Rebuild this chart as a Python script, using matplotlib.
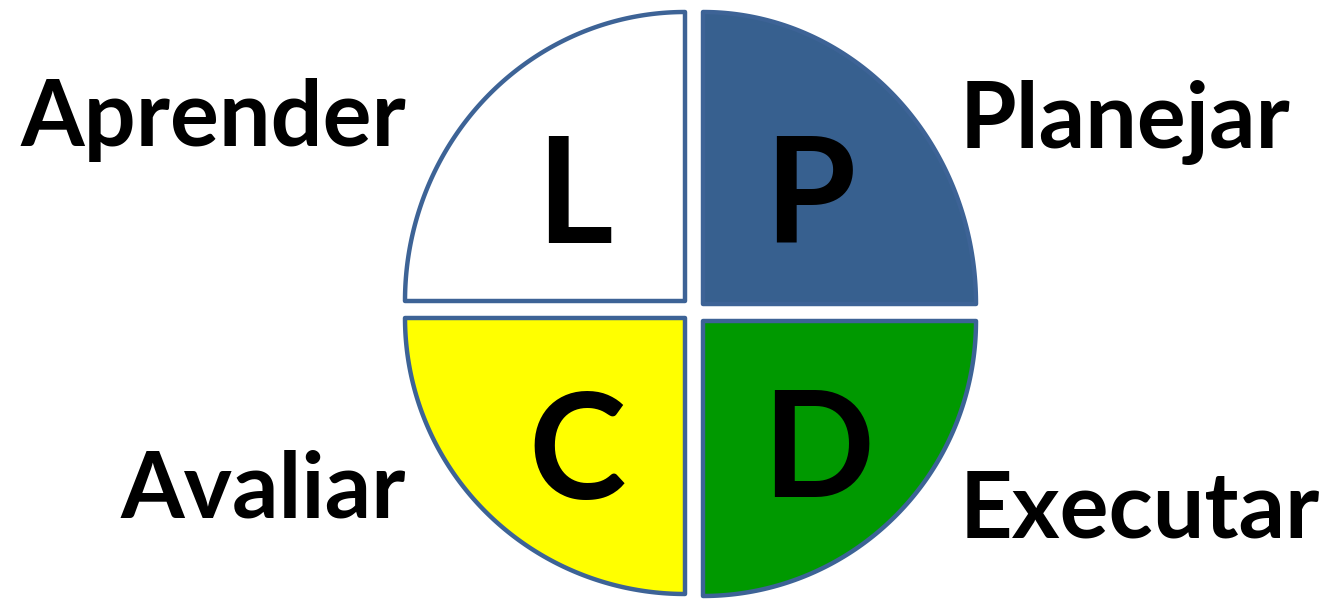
import numpy as np
import matplotlib
matplotlib.use("Agg")
from matplotlib import pyplot as plt
from matplotlib.patches import Polygon

# quadrant content (TL, TR, BL, BR)
letters = ["L", "P", "C", "D"]
words = ["Aprender", "Planejar", "Avaliar", "Executar"]
fills = ["#FFFFFF", "#37608F", "#FFFF00", "#009900"]
edge_color = "#3D6396"

# layout in pixel units: corner of each quarter, radii (x, y), arc angles
corners = [(685, 301), (703, 304), (685, 318), (703, 321)]
radii = [(280, 289), (273, 292), (280, 276), (273, 275)]
arcs = [(180, 270), (270, 360), (90, 180), (0, 90)]
letter_pos = [(574, 243), (810, 243), (577, 499), (818, 497)]
word_pos = [(20, 146), (960, 148), (121, 518), (960, 537)]

fig = plt.figure(figsize=(13.26, 6.01), dpi=100)
ax = fig.add_axes([0, 0, 1, 1])
ax.set_xlim(0, 1326)
ax.set_ylim(601, 0)
ax.axis("off")

for (cx, cy), (rx, ry), (a0, a1), fc in zip(corners, radii, arcs, fills):
    t = np.radians(np.linspace(a0, a1, 120))
    pts = np.column_stack([cx + rx * np.cos(t), cy + ry * np.sin(t)])
    pts = np.vstack([[cx, cy], pts])
    ax.add_patch(Polygon(pts, closed=True, facecolor=fc, edgecolor=edge_color,
                         linewidth=3.2, joinstyle="round"))

for (x, y), s in zip(letter_pos, letters):
    ax.text(x, y, s, ha="center", va="baseline", fontsize=106,
            fontweight="bold", family="Lato", color="black")

for (x, y), s in zip(word_pos, words):
    ax.text(x, y, s, ha="left", va="baseline", fontsize=66,
            fontweight="bold", family="Lato", color="black")

fig.savefig("out.png", dpi=100)
